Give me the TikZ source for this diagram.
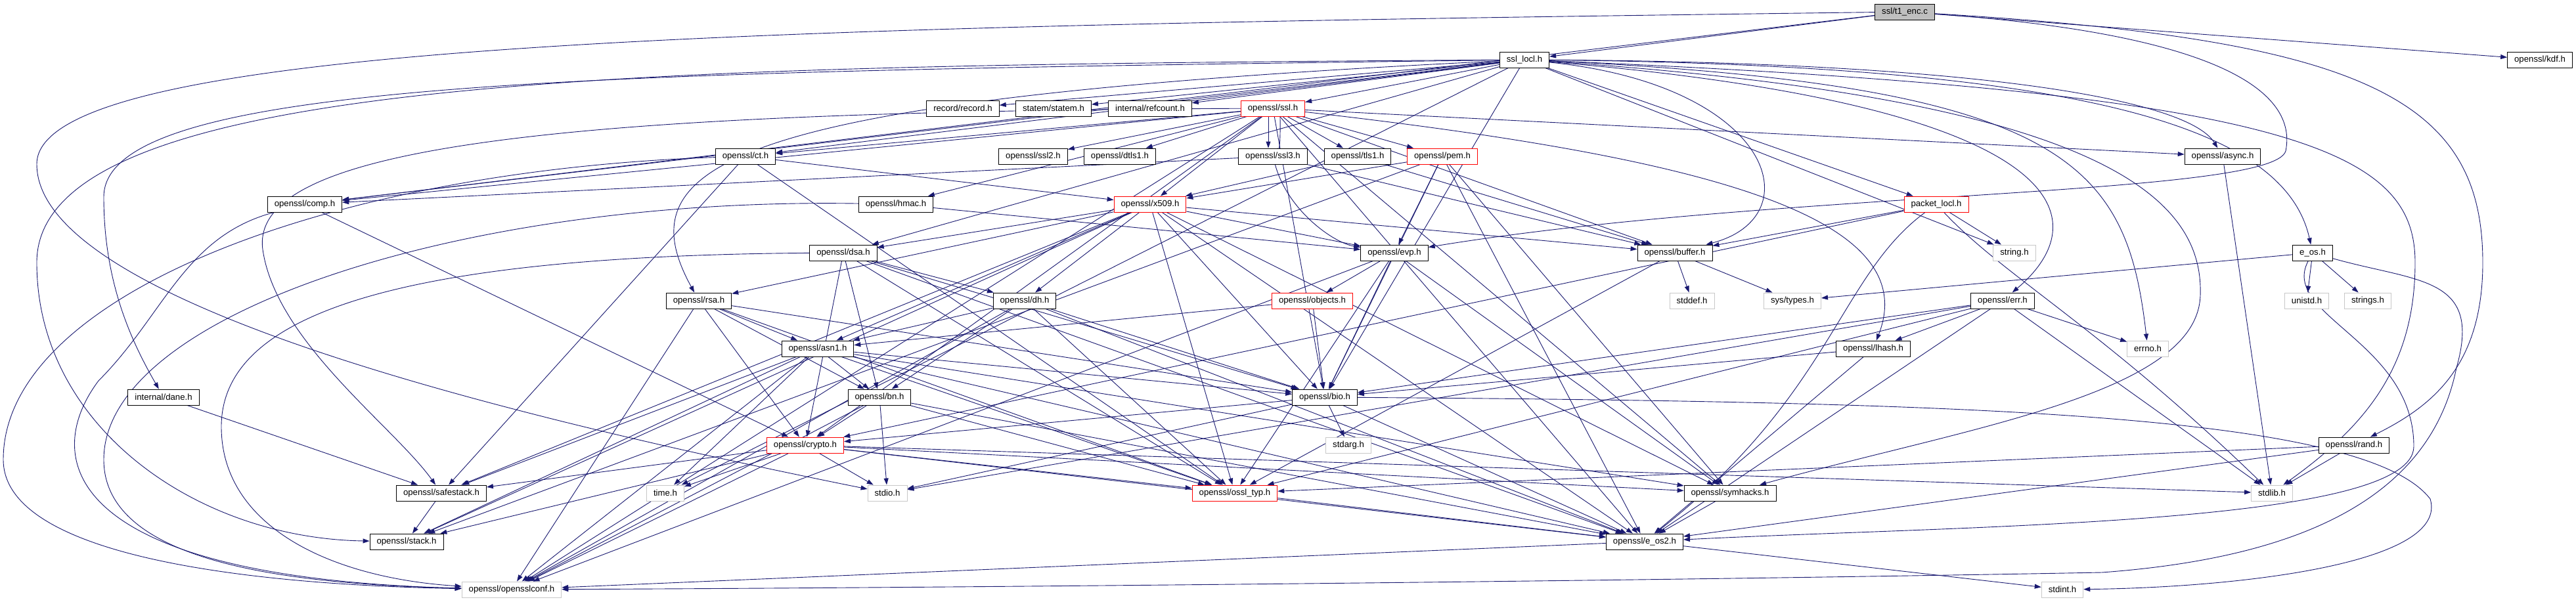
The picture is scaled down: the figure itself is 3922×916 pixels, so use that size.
\documentclass[tikz,border=0pt]{standalone}
\usepackage{fontspec}
\setmainfont{Liberation Sans}
\usepackage{xcolor}
\usepackage{tikz}
\usetikzlibrary{arrows.meta,backgrounds}

\definecolor{edgeblue}{HTML}{191970}
\definecolor{rootgray}{HTML}{BFBFBF}
\definecolor{sysgray}{HTML}{C8C8C8}

\tikzset{
  file/.style={draw=black, fill=white, line width=0.9pt, inner xsep=10.5pt, inner ysep=0pt,
    minimum height=24pt, font=\fontsize{13.2}{15}\selectfont},
  partial/.style={file, draw=red},
  sysfile/.style={file, draw=sysgray},
  mainfile/.style={file, fill=rootgray},
  dep/.style={draw=edgeblue, line width=0.9pt, -{Triangle[length=10pt,width=7pt]}}
}

\begin{document}
\begin{tikzpicture}[x=1pt, y=-1pt, every edge/.style={dep}]
  \useasboundingbox (0,0) rectangle (3922,916);

  \node[mainfile] (t1enc) at (2900,18) {ssl/t1\_enc.c};

  \node[file] (ssllocl) at (2321,91) {ssl\_locl.h};
  \node[file] (kdf) at (3867,91) {openssl/kdf.h};

  \node[file] (record) at (1466,165) {record/record.h};
  \node[file] (statem) at (1604,165) {statem/statem.h};
  \node[file] (refcount) at (1751,165) {internal/refcount.h};
  \node[partial] (ssl) at (1938,165) {openssl/ssl.h};

  \node[file] (ct) at (1135,238) {openssl/ct.h};
  \node[file] (ssl2) at (1573,238) {openssl/ssl2.h};
  \node[file] (dtls1) at (1705,238) {openssl/dtls1.h};
  \node[file] (ssl3) at (1938,238) {openssl/ssl3.h};
  \node[file] (tls1) at (2067,238) {openssl/tls1.h};
  \node[partial] (pem) at (2196,238) {openssl/pem.h};
  \node[file] (async) at (3384,238) {openssl/async.h};

  \node[file] (comp) at (464,311) {openssl/comp.h};
  \node[file] (hmac) at (1364,311) {openssl/hmac.h};
  \node[partial] (x509) at (1751,311) {openssl/x509.h};
  \node[partial] (packet) at (2948,311) {packet\_locl.h};

  \node[file] (dsa) at (1284,385) {openssl/dsa.h};
  \node[file] (evp) at (2123,385) {openssl/evp.h};
  \node[file] (buffer) at (2550,385) {openssl/buffer.h};
  \node[sysfile] (string) at (3067,385) {string.h};
  \node[file] (eos) at (3521,385) {e\_os.h};

  \node[file] (rsa) at (1064,458) {openssl/rsa.h};
  \node[file] (dh) at (1560,458) {openssl/dh.h};
  \node[partial] (objects) at (1998,458) {openssl/objects.h};
  \node[sysfile] (stddef) at (2576,458) {stddef.h};
  \node[sysfile] (systypes) at (2729,458) {sys/types.h};
  \node[file] (err) at (3049,458) {openssl/err.h};
  \node[sysfile] (unistd) at (3512,458) {unistd.h};
  \node[sysfile] (strings) at (3605,458) {strings.h};

  \node[file] (asn1) at (1245,531) {openssl/asn1.h};
  \node[file] (lhash) at (2852,531) {openssl/lhash.h};
  \node[sysfile] (errno) at (3270,531) {errno.h};

  \node[file] (dane) at (249,605) {internal/dane.h};
  \node[file] (bn) at (1339,605) {openssl/bn.h};
  \node[file] (bio) at (2017,605) {openssl/bio.h};

  \node[partial] (crypto) at (1226,678) {openssl/crypto.h};
  \node[sysfile] (stdarg) at (2053,678) {stdarg.h};
  \node[file] (rand) at (3584,678) {openssl/rand.h};

  \node[file] (safestack) at (672,751) {openssl/safestack.h};
  \node[sysfile] (time) at (1013,751) {time.h};
  \node[sysfile] (stdio) at (1351,751) {stdio.h};
  \node[partial] (ossl) at (1880,751) {openssl/ossl\_typ.h};
  \node[file] (symhacks) at (2634,751) {openssl/symhacks.h};
  \node[sysfile] (stdlib) at (3459,751) {stdlib.h};

  \node[file] (stack) at (619,825) {openssl/stack.h};
  \node[file] (eos2) at (2504,825) {openssl/e\_os2.h};

  \node[sysfile] (conf) at (779,898) {openssl/opensslconf.h};
  \node[sysfile] (stdint) at (3140,898) {stdint.h};

  \begin{scope}[on background layer]
    % ssl/t1_enc.c
    \path (t1enc) edge (ssllocl) edge (kdf) edge (comp);
    \draw[dep] (t1enc) .. controls (1200,40) and (56,60) .. (56,250) .. controls (56,450) and (700,620) .. (stdio);
    \draw[dep] (t1enc) .. controls (3600,60) and (3780,150) .. (3780,400) .. controls (3780,560) and (3700,620) .. (rand);
    \draw[dep] (t1enc) .. controls (3350,50) and (3500,130) .. (3480,230) .. controls (3460,300) and (2700,290) .. (evp);

    % ssl_locl.h
    \path (ssllocl) edge (record) edge (statem) edge (refcount) edge (ssl) edge (comp) edge (ct)
      edge (dsa) edge (time) edge (bio) edge (packet) edge (string);
    \draw[dep] (ssllocl) .. controls (3000,95) and (3330,150) .. (async);
    \draw[dep] (ssllocl) .. controls (3200,100) and (3480,200) .. (eos);
    \draw[dep] (ssllocl) .. controls (1000,100) and (56,110) .. (56,400) .. controls (56,650) and (300,820) .. (stack);
    \draw[dep] (ssllocl) .. controls (900,110) and (158,120) .. (158,300) .. controls (158,430) and (200,520) .. (dane);
    \draw[dep] (ssllocl) .. controls (1100,150) and (950,250) .. (rsa);
    \draw[dep] (ssllocl) .. controls (2700,130) and (2760,330) .. (buffer);
    \draw[dep] (ssllocl) .. controls (3150,160) and (3200,330) .. (err);
    \draw[dep] (ssllocl) .. controls (3150,130) and (3238,250) .. (errno);
    \draw[dep] (ssllocl) .. controls (3500,140) and (3677,230) .. (3677,400) .. controls (3677,560) and (3600,650) .. (stdlib);
    \draw[dep] (ssllocl) .. controls (3200,150) and (3355,300) .. (3350,450) .. controls (3345,600) and (3000,650) .. (symhacks);

    % openssl/ssl.h
    \draw[dep] ([xshift=-7pt]ssl.south) -- ([xshift=-7pt]ssl3.north);
    \draw[dep] ([xshift=7pt]ssl3.north) .. controls ([xshift=12pt,yshift=-20pt]ssl3.north) and ([xshift=12pt,yshift=20pt]ssl.south) .. ([xshift=7pt]ssl.south);
    \path (ssl) edge (ssl2) edge (dtls1) edge (tls1) edge (pem) edge (hmac) edge (x509) edge (comp)
      edge (ct) edge (async) edge (buffer) edge (bio) edge (crypto) edge (eos2) edge (conf) edge (symhacks);
    \draw[dep] (ssl) .. controls (800,170) and (380,230) .. (400,380) .. controls (420,520) and (600,650) .. (safestack);
    \draw[dep] (ssl) .. controls (2600,240) and (2930,330) .. (lhash);

    \path (ssl3) edge (comp) edge (buffer);
    \draw[dep] (ssl3) .. controls (1960,320) and (2030,370) .. (evp);
    \path (tls1) edge (buffer) edge (x509);
    \path (pem) edge (evp) edge (x509) edge (bio) edge (stack) edge (eos2) edge (symhacks);
    \path (ct) edge (x509) edge (ossl) edge (safestack);
    \draw[dep] (ct) .. controls (500,260) and (5,450) .. (5,700) .. controls (5,870) and (500,893) .. (conf);
    \path (hmac) edge (evp);
    \draw[dep] (hmac) .. controls (700,300) and (158,480) .. (158,700) .. controls (158,860) and (450,890) .. (conf);
    \path (comp) edge (crypto);
    \draw[dep] (comp) .. controls (280,360) and (250,480) .. (150,580) .. controls (60,700) and (100,880) .. (conf);

    % openssl/x509.h and the key headers
    \path (x509) edge (dsa) edge (dh) edge (rsa) edge (asn1) edge (bio) edge (evp) edge (buffer)
      edge (eos2) edge (ossl) edge (symhacks) edge (safestack) edge (stack);
    \path (dsa) edge (dh) edge (bn) edge (crypto) edge (bio) edge (ossl) edge (eos2);
    \draw[dep] (dsa) .. controls (600,390) and (337,480) .. (337,650) .. controls (337,800) and (500,880) .. (conf);
    \path (rsa) edge (asn1) edge (bn) edge (crypto) edge (bio) edge (ossl) edge (conf);
    \path (dh) edge (asn1) edge (bn) edge (bio) edge (ossl) edge (eos2) edge (conf);
    \path (evp) edge (objects) edge (bio) edge (ossl) edge (symhacks) edge (conf);
    \path (objects) edge (bio) edge (asn1);
    \path (asn1) edge (bn) edge (time) edge (bio) edge (stack) edge (safestack) edge (symhacks)
      edge (ossl) edge (eos2) edge (conf);
    \path (bn) edge (crypto) edge (stdio) edge (ossl) edge (eos2) edge (conf);
    \path (crypto) edge (safestack) edge (stack) edge (time) edge (stdio) edge (ossl) edge (symhacks)
      edge (eos2) edge (stdlib) edge (conf);
    \path (bio) edge (crypto) edge (stdarg) edge (stdio) edge (eos2);
    \draw[dep] (bio) .. controls (3000,612) and (3600,630) .. (3700,760) .. controls (3730,860) and (3400,895) .. (stdint);

    % remaining headers
    \path (buffer) edge (stddef) edge (systypes) edge (ossl);
    \path (lhash) edge (bio) edge (eos2);
    \path (err) edge (lhash) edge (errno) edge (bio) edge (stdio) edge (ossl) edge (eos2) edge (stdlib);
    \path (async) edge (stdlib);
    \path (eos) edge (unistd) edge (strings) edge (systypes);
    \draw[dep] (eos) .. controls (3470,480) and (3675,520) .. (3675,680) .. controls (3675,800) and (3000,800) .. (eos2);
    \draw[dep] (eos) .. controls (3680,430) and (3780,420) .. (3740,560) .. controls (3700,760) and (3500,850) .. (3200,872) .. controls (2500,885) and (1500,895) .. (conf);
    \path (packet) edge (buffer) edge (string) edge (crypto);
    \draw[dep] (packet) .. controls (2800,420) and (2790,600) .. (eos2);
    \draw[dep] (packet) .. controls (3050,420) and (3200,500) .. (stdlib);
    \path (symhacks) edge (eos2);
    \path (ossl) edge (eos2);
    \path (safestack) edge (stack);
    \path (eos2) edge (conf) edge (stdint);
    \path (dane) edge (safestack);
    \path (rand) edge (stdlib) edge (ossl) edge (eos2);
  \end{scope}
\end{tikzpicture}
\end{document}
